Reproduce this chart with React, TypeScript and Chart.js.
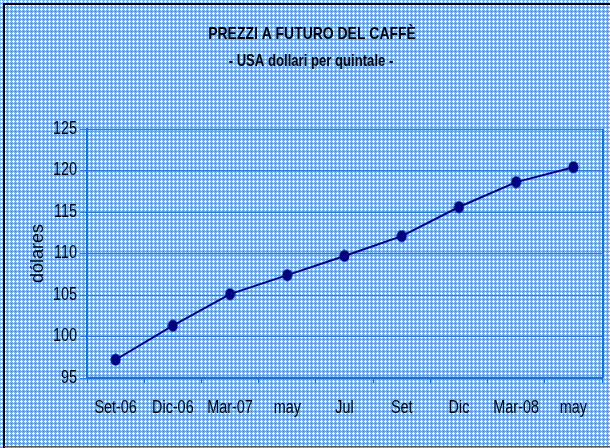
import React, { useEffect, useRef } from "react";
import { Chart, registerables } from "chart.js";

Chart.register(...registerables);

const categories = ["Set-06", "Dic-06", "Mar-07", "may", "Jul", "Set", "Dic", "Mar-08", "may"];
const prices = [97.2, 101.3, 105.1, 107.4, 109.7, 112.1, 115.6, 118.6, 120.4];
const yTicks = [95, 100, 105, 110, 115, 120, 125];
const titleText = "PREZZI A FUTURO DEL CAFFÈ";
const subtitleText = "- USA dollari per quintale -";
const yAxisTitle = "dólares";

const FONT = "'Liberation Sans', Arial, sans-serif";

function makePattern(): CanvasPattern | string {
  const c = document.createElement("canvas");
  c.width = 4;
  c.height = 4;
  const g = c.getContext("2d");
  if (!g) return "#7fb0ea";
  g.fillStyle = "#76aeeb";
  g.fillRect(0, 0, 4, 4);
  g.fillStyle = "#eef5fd";
  g.fillRect(1, 0, 1, 3);
  g.fillRect(0, 1, 3, 1);
  g.fillStyle = "#ffffff";
  g.fillRect(1, 1, 1, 1);
  g.fillStyle = "#3f87dc";
  g.fillRect(3, 3, 1, 1);
  g.fillStyle = "#5d9de5";
  g.fillRect(3, 1, 1, 1);
  g.fillRect(1, 3, 1, 1);
  const ctx = document.createElement("canvas").getContext("2d");
  return ctx ? (ctx.createPattern(c, "repeat") as CanvasPattern) : "#7fb0ea";
}

function makePoint(): HTMLCanvasElement {
  const c = document.createElement("canvas");
  c.width = 11;
  c.height = 13;
  const g = c.getContext("2d");
  if (g) {
    g.fillStyle = "#000080";
    g.beginPath();
    g.ellipse(5.5, 6.5, 5, 6, 0, 0, Math.PI * 2);
    g.fill();
  }
  return c;
}

function narrowText(
  ctx: CanvasRenderingContext2D,
  text: string,
  x: number,
  y: number,
  font: string,
  align: CanvasTextAlign,
  sx: number,
  rotate = 0
) {
  ctx.save();
  ctx.translate(x, y);
  if (rotate) ctx.rotate(rotate);
  ctx.scale(sx, 1);
  ctx.font = font;
  ctx.fillStyle = "#000000";
  ctx.textAlign = align;
  ctx.textBaseline = "middle";
  ctx.fillText(text, 0, 0);
  ctx.restore();
}

export default function App() {
  const ref = useRef<HTMLCanvasElement | null>(null);

  useEffect(() => {
    document.body.style.margin = "0";
    const canvas = ref.current;
    if (!canvas) return;
    const pattern = makePattern();
    const pointImg = makePoint();

    const decor = {
      id: "decor",
      beforeDraw(chart: any) {
        const ctx = chart.ctx;
        ctx.save();
        ctx.fillStyle = pattern;
        ctx.fillRect(0, 0, chart.width, chart.height);
        ctx.strokeStyle = "#000000";
        ctx.lineWidth = 2;
        ctx.beginPath();
        ctx.moveTo(4, chart.height);
        ctx.lineTo(4, 4);
        ctx.lineTo(chart.width, 4);
        ctx.stroke();
        ctx.strokeStyle = "#555555";
        ctx.lineWidth = 1;
        ctx.beginPath();
        ctx.moveTo(4, chart.height - 1.5);
        ctx.lineTo(chart.width, chart.height - 1.5);
        ctx.stroke();
        ctx.restore();
      },
      afterDraw(chart: any) {
        const ctx = chart.ctx;
        const a = chart.chartArea;
        ctx.save();
        ctx.strokeStyle = "#1f6fd0";
        ctx.lineWidth = 2;
        ctx.beginPath();
        ctx.moveTo(a.right + 1, a.top);
        ctx.lineTo(a.right + 1, a.bottom);
        ctx.stroke();
        ctx.restore();

        narrowText(ctx, titleText, 312, 34, "bold 17px " + FONT, "center", 0.82);
        narrowText(ctx, subtitleText, 311, 62, "bold 16px " + FONT, "center", 0.82);
        narrowText(ctx, yAxisTitle, 38, (a.top + a.bottom) / 2, "19px " + FONT, "center", 0.95, -Math.PI / 2);

        const xs = chart.scales.x;
        categories.forEach((lab, i) => {
          narrowText(ctx, lab, xs.getPixelForValue(i), 408, "18px " + FONT, "center", 0.8);
        });
        const ys = chart.scales.y;
        yTicks.forEach((v) => {
          narrowText(ctx, String(v), 77, ys.getPixelForValue(v), "18px " + FONT, "right", 0.8);
        });
      },
    };

    const chart = new Chart(canvas, {
      type: "line",
      data: {
        labels: categories,
        datasets: [
          {
            data: prices,
            borderColor: "#000080",
            borderWidth: 2,
            pointStyle: pointImg as any,
            pointRadius: 5,
            tension: 0,
          },
        ],
      },
      options: {
        animation: false,
        responsive: false,
        layout: { padding: { left: 0, top: 129, right: 8, bottom: 0 } },
        plugins: { legend: { display: false }, tooltip: { enabled: false }, title: { display: false } },
        scales: {
          x: {
            offset: true,
            grid: {
              offset: true,
              drawOnChartArea: false,
              drawTicks: true,
              tickLength: 5,
              color: "#1f6fd0",
              lineWidth: 1,
            },
            border: { display: true, color: "#1f6fd0", width: 2 },
            ticks: { display: false, autoSkip: false },
            afterFit(scale: any) {
              scale.height = 70;
            },
          },
          y: {
            min: 95,
            max: 125,
            afterBuildTicks(scale: any) {
              scale.ticks = yTicks.map((v) => ({ value: v }));
            },
            grid: {
              color: "#2f7ad6",
              lineWidth: 1,
              drawTicks: true,
              tickLength: 7,
            },
            border: { display: true, color: "#1f6fd0", width: 2 },
            ticks: { display: false },
            afterFit(scale: any) {
              scale.width = 87;
            },
          },
        },
      },
      plugins: [decor],
    });
    return () => chart.destroy();
  }, []);

  return (
    <div style={{ width: 610, height: 448 }}>
      <canvas ref={ref} width={610} height={448} style={{ display: "block" }} />
    </div>
  );
}
